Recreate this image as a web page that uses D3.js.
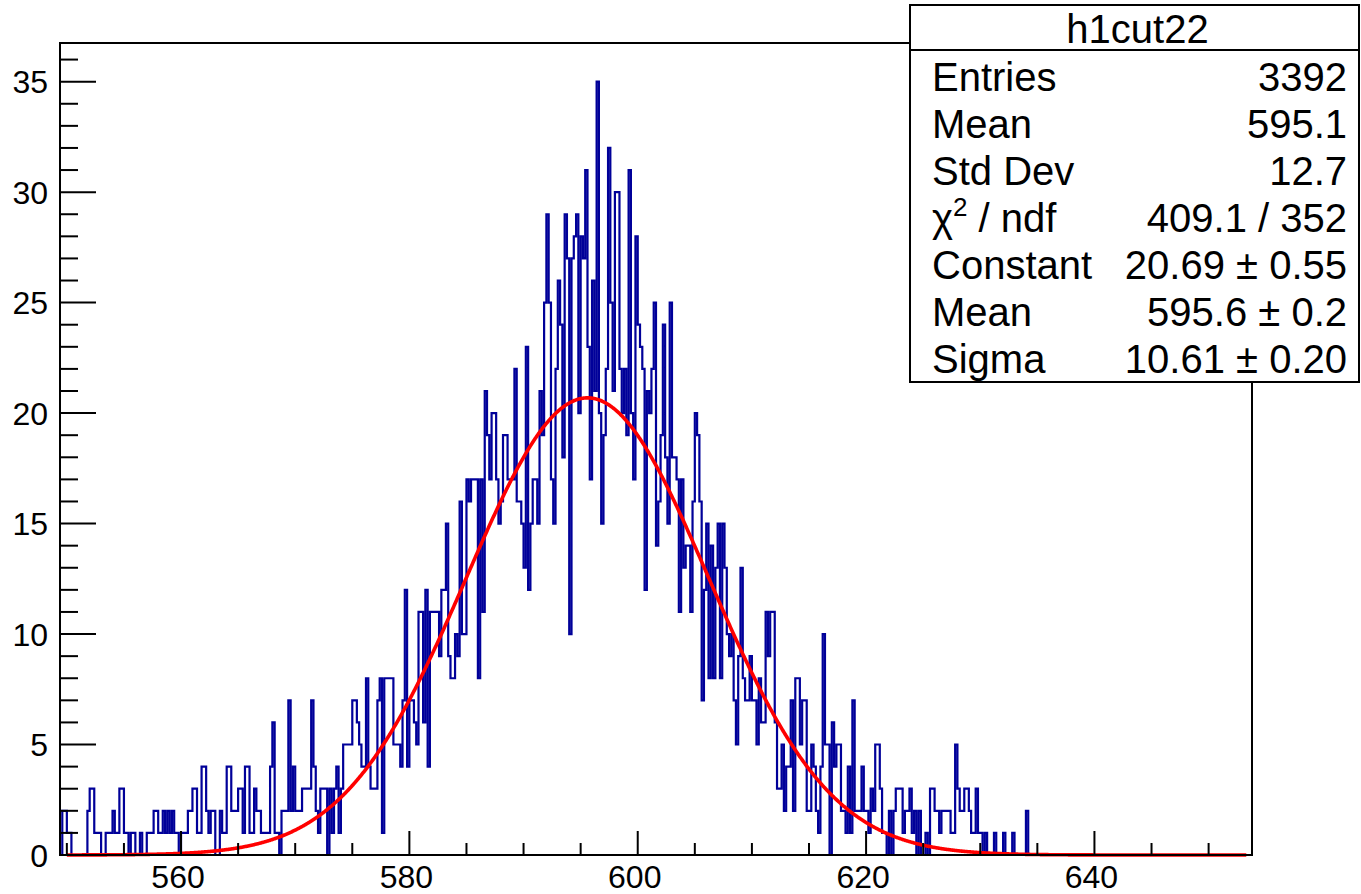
<!DOCTYPE html>
<html>
<head>
<meta charset="utf-8">
<script src="https://cdn.jsdelivr.net/npm/d3@7"></script>
<style>
body { margin: 0; background: white; }
text { font-family: "Liberation Sans", Arial, Helvetica, sans-serif; fill: black; }
</style>
</head>
<body>
<div id="drawing"></div>
<script>
"use strict"

/**** DATA ****/

// histogram h1cut22: bins of 0.2 starting at 549.4
let histMin = 549.4
let histMax = 653.8
let binWidth = 0.2

let binCounts = [
0,2,2,1,1,0,0,0,0,0,
0,0,2,3,3,1,1,1,0,0,
1,1,1,2,1,1,3,3,1,1,
0,1,1,0,0,1,0,0,1,1,
1,2,2,1,1,2,1,2,1,2,
1,1,0,1,1,1,2,2,3,3,
1,1,4,4,2,1,2,2,0,0,
2,1,1,4,4,2,2,2,3,3,
1,4,4,1,1,3,2,2,1,1,
1,1,4,6,1,1,0,2,2,2,
7,2,4,2,2,2,3,3,3,3,
7,4,2,1,3,3,3,0,3,1,
3,4,1,3,5,5,5,5,7,7,
6,5,4,4,8,4,3,3,3,7,
8,1,8,8,8,8,5,5,5,4,
7,12,4,7,7,6,5,11,11,6,
12,4,11,11,11,11,9,12,12,15,
9,8,8,10,9,16,10,10,17,16,
17,17,17,8,17,11,21,19,17,20,
20,17,15,16,19,19,17,17,17,22,
16,16,15,13,23,12,15,17,17,15,
21,19,25,29,25,17,15,22,26,24,
18,29,27,10,27,28,29,20,28,27,
31,23,17,26,21,35,20,15,19,22,
32,25,21,30,30,22,20,22,19,31,
20,17,28,24,23,22,12,21,20,22,
25,14,16,19,24,18,15,25,18,18,
17,11,17,13,14,14,11,16,20,19,
16,7,12,15,8,14,8,13,15,8,
15,13,10,9,10,7,5,9,13,8,
7,7,9,7,7,5,8,6,6,11,
9,11,11,6,3,3,5,2,4,4,
7,2,8,8,5,7,7,2,2,5,
4,2,1,4,10,5,5,0,6,4,
5,5,2,2,1,4,1,7,2,2,
2,4,2,2,1,3,2,5,5,3,
1,1,0,2,0,2,3,3,3,1,
2,2,3,1,2,0,2,0,0,1,
0,3,3,2,2,1,2,2,2,2,
1,1,5,3,2,2,3,3,2,1,
1,3,1,1,0,1,0,0,0,1,
0,0,0,1,0,0,0,1,0,0,
0,0,0,2
]

// gaussian fit result
let fitConstant = 20.69
let fitMean = 595.6
let fitSigma = 10.61
let fitRange = [550, 653.3]

let xLabelValues = [560, 580, 600, 620, 640]
let yLabelValues = [0, 5, 10, 15, 20, 25, 30, 35]
let yMax = 36.75

let statsTitle = "h1cut22"
let statLabels = ["Entries", "Mean", "Std Dev", "CHI2", "Constant", "Mean", "Sigma"]
let statValues = ["3392", "595.1", "12.7", "409.1 / 352", "20.69 \u00b1 0.55", "595.6 \u00b1 0.2", "10.61 \u00b1 0.20"]


/**** CONFIGURATION ****/

let svgWidth = 1361
let svgHeight = 894

let frameLeft = 60
let frameRight = 1252
let frameTop = 43
let frameBottom = 855

let histColor = "#000099"
let fitColor = "#ff0000"


/**** CANVAS SETUP ****/

let svg = d3.select("#drawing")
.append("svg")
.attr("width", svgWidth)
.attr("height", svgHeight)

svg.append("rect")
.attr("width", svgWidth)
.attr("height", svgHeight)
.attr("fill", "white")


/**** SCALES ****/

let xScale = d3.scaleLinear()
.domain([histMin, histMax])
.range([frameLeft, frameRight])

let yScale = d3.scaleLinear()
.domain([0, yMax])
.range([frameBottom, frameTop])


/**** HISTOGRAM ****/

let histPoints = [[histMin, 0]]
binCounts.forEach(function(c, i){
    histPoints.push([histMin + i*binWidth, c])
})
let lastEdge = histMin + binCounts.length*binWidth
histPoints.push([lastEdge, binCounts[binCounts.length-1]])
histPoints.push([lastEdge, 0])

let histLine = d3.line()
.x(d => xScale(d[0]))
.y(d => yScale(d[1]))
.curve(d3.curveStepAfter)

svg.append("path")
.attr("d", histLine(histPoints))
.attr("fill", "none")
.attr("stroke", histColor)
.attr("stroke-width", 2.2)


/**** FIT CURVE ****/

let fitPoints = d3.range(fitRange[0], fitRange[1], 0.05).concat([fitRange[1]])
.map(x => [x, fitConstant*Math.exp(-0.5*Math.pow((x-fitMean)/fitSigma, 2))])

let fitLine = d3.line()
.x(d => xScale(d[0]))
.y(d => yScale(d[1]))

svg.append("path")
.attr("d", fitLine(fitPoints))
.attr("fill", "none")
.attr("stroke", fitColor)
.attr("stroke-width", 3.6)


/**** FRAME ****/

svg.append("rect")
.attr("x", frameLeft)
.attr("y", frameTop)
.attr("width", frameRight-frameLeft)
.attr("height", frameBottom-frameTop)
.attr("fill", "none")
.attr("stroke", "black")
.attr("stroke-width", 2)


/**** X AXIS TICKS ****/

let xTicks = d3.range(550, 651, 5)

svg.selectAll(".xtick")
.data(xTicks)
.join("line")
.classed("xtick", true)
.attr("x1", d => xScale(d))
.attr("x2", d => xScale(d))
.attr("y1", frameBottom)
.attr("y2", d => frameBottom - (d % 20 === 0 ? 24 : 12))
.attr("stroke", "black")
.attr("stroke-width", 2)

svg.selectAll(".xlabel")
.data(xLabelValues)
.join("text")
.classed("xlabel", true)
.attr("x", d => xScale(d) - 3)
.attr("y", 888)
.style("text-anchor", "middle")
.style("font-size", "32px")
.text(d => d)


/**** Y AXIS TICKS ****/

let yTicks = d3.range(0, 37, 1)

svg.selectAll(".ytick")
.data(yTicks)
.join("line")
.classed("ytick", true)
.attr("x1", frameLeft)
.attr("x2", d => frameLeft + (d % 5 === 0 ? 36 : 18))
.attr("y1", d => yScale(d))
.attr("y2", d => yScale(d))
.attr("stroke", "black")
.attr("stroke-width", 2)

svg.selectAll(".ylabel")
.data(yLabelValues)
.join("text")
.classed("ylabel", true)
.attr("x", 48)
.attr("y", d => yScale(d) + 11.5)
.style("text-anchor", "end")
.style("font-size", "32px")
.text(d => d)


/**** STATS BOX ****/

let boxLeft = 910
let boxRight = 1359
let boxTop = 5
let boxBottom = 382
let titleLine = 50

let stats = svg.append("g")

stats.append("rect")
.attr("x", boxLeft)
.attr("y", boxTop)
.attr("width", boxRight-boxLeft)
.attr("height", boxBottom-boxTop)
.attr("fill", "white")
.attr("stroke", "black")
.attr("stroke-width", 2)

stats.append("line")
.attr("x1", boxLeft)
.attr("x2", boxRight)
.attr("y1", titleLine)
.attr("y2", titleLine)
.attr("stroke", "black")
.attr("stroke-width", 2)

stats.append("text")
.attr("x", (boxLeft+boxRight)/2 + 3)
.attr("y", 43)
.style("text-anchor", "middle")
.style("font-size", "40px")
.text(statsTitle)

statLabels.forEach(function(label, i){
    let y = 91 + i*47
    let t = stats.append("text")
    .attr("x", 932)
    .attr("y", y)
    .style("font-size", "40px")
    if(label === "CHI2"){
        t.append("tspan").text("\u03c7")
        t.append("tspan").attr("dy", -16).style("font-size", "26px").text("2")
        t.append("tspan").attr("dy", 16).text(" / ndf")
    }else{
        t.text(label)
    }
    stats.append("text")
    .attr("x", 1347)
    .attr("y", y)
    .style("text-anchor", "end")
    .style("font-size", "40px")
    .text(statValues[i])
})

</script>
</body>
</html>
